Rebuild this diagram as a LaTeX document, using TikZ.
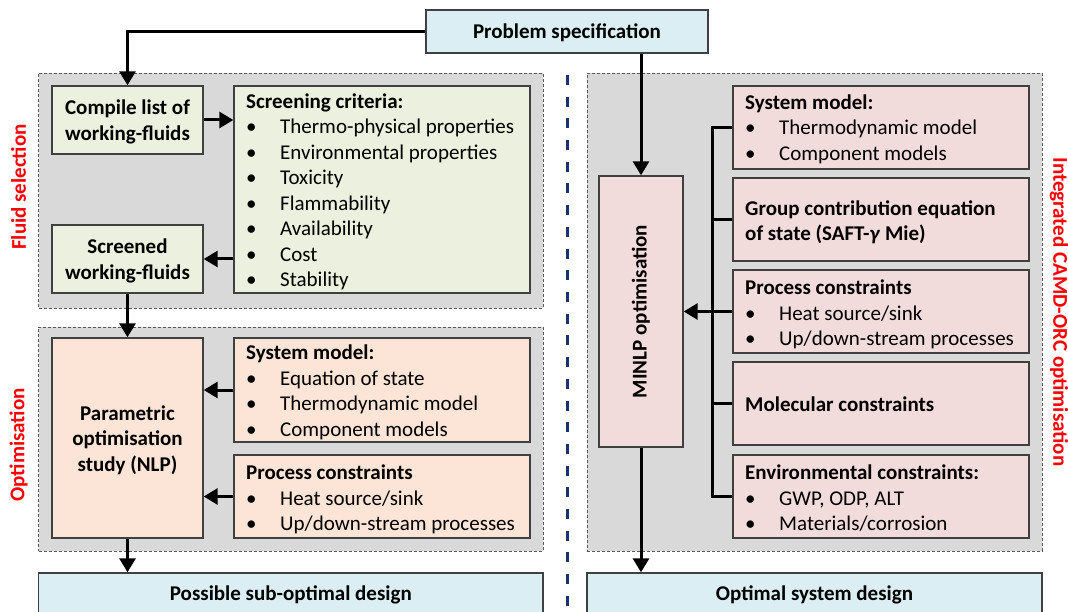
\documentclass[tikz,border=0pt]{standalone}
\usepackage{fontspec}
\setmainfont{Carlito}
\usetikzlibrary{arrows.meta,fit}
\definecolor{panelgray}{HTML}{D9D9D9}
\definecolor{boxgreen}{HTML}{EBF1DE}
\definecolor{boxpeach}{HTML}{FCE4D6}
\definecolor{boxpink}{HTML}{F2DCDB}
\definecolor{boxblue}{HTML}{DAEEF3}
\definecolor{boxedge}{HTML}{404040}
\definecolor{navy}{HTML}{1A3270}
\newcommand\bl{\makebox[34pt][l]{•}}
\tikzset{
  every node/.style={font=\fontsize{21}{25.5}\selectfont},
  box/.style={draw=boxedge, line width=1.4pt, inner sep=0pt},
  boxtext/.style={align=center, inner sep=0pt, font=\fontsize{21}{25.5}\selectfont\bfseries},
  panel/.style={draw=black!65, dash pattern=on 3pt off 2pt, line width=0.9pt, fill=panelgray, inner sep=0pt},
  listtext/.style={anchor=base west, inner sep=0pt},
  redlabel/.style={text=red, font=\fontsize{21}{25.5}\selectfont\bfseries, inner sep=0pt},
  conn/.style={line width=3pt, -{Triangle[length=14pt,width=16pt]}},
  wire/.style={line width=3pt},
}
\begin{document}
\begin{tikzpicture}[x=1pt,y=-1pt]
\useasboundingbox (0,0) rectangle (1068,612);
\clip (0,0) rectangle (1068,612);
% panels
\node[panel, fit={(38.6,73) (543,308)}] (panelA) {};
\node[panel, fit={(38.6,327) (543,551)}] (panelB) {};
\node[panel, fit={(587,73) (1042,551)}] (panelC) {};
% top
\node[box, fill=boxblue, fit={(426,10) (708,53)}] (prob) {};
\node[boxtext] (probT) at ([yshift=-1pt]prob.center) {Problem specification};
% fluid selection
\node[box, fill=boxgreen, fit={(52,86) (203,154)}] (compile) {};
\node[boxtext] (compileT) at ([yshift=-2pt]compile.center) {Compile list of\\working-fluids};
\node[box, fill=boxgreen, fit={(234,86) (530,293)}] (screen) {};
\node[box, fill=boxgreen, fit={(52,225) (203,293)}] (screened) {};
\node[boxtext] (screenedT) at ([yshift=-2pt]screened.center) {Screened\\working-fluids};
\node[listtext] (screenT) at (246,108.5) {\begin{tabular}[t]{@{}l@{}}\textbf{Screening criteria:}\\
\bl Thermo-physical properties\\ \bl Environmental properties\\ \bl Toxicity\\ \bl Flammability\\ \bl Availability\\ \bl Cost\\ \bl Stability\end{tabular}};
% optimisation
\node[box, fill=boxpeach, fit={(52,338) (203,538)}] (param) {};
\node[boxtext] (paramT) at ([yshift=-2pt]param.center) {Parametric\\optimisation\\study (NLP)};
\node[box, fill=boxpeach, fit={(234,338) (530,442)}] (sysL) {};
\node[box, fill=boxpeach, fit={(234,455) (530,538)}] (procL) {};
\node[listtext] (sysLT) at (246,359.5) {\begin{tabular}[t]{@{}l@{}}\textbf{System model:}\\
\bl Equation of state\\ \bl Thermodynamic model\\ \bl Component models\end{tabular}};
\node[listtext] (procLT) at (246,479.5) {\begin{tabular}[t]{@{}l@{}}\textbf{Process constraints}\\
\bl Heat source/sink\\ \bl Up/down-stream processes\end{tabular}};
\node[box, fill=boxblue, fit={(38.6,573) (543,617)}] (subopt) {};
\node[boxtext] (suboptT) at (subopt.center) {Possible sub-optimal design};
% right
\node[box, fill=boxpink, fit={(599,176) (683,447)}] (minlp) {};
\node[boxtext, rotate=90] (minlpT) at (minlp.center) {MINLP optimisation};
\node[box, fill=boxpink, fit={(733,86) (1029,169)}] (sysR) {};
\node[box, fill=boxpink, fit={(733,178) (1029,261)}] (gcR) {};
\node[box, fill=boxpink, fit={(733,270) (1029,353)}] (procR) {};
\node[box, fill=boxpink, fit={(733,362) (1029,445)}] (molR) {};
\node[box, fill=boxpink, fit={(733,455) (1029,538)}] (envR) {};
\node[listtext] (sysRT) at (745,109.5) {\begin{tabular}[t]{@{}l@{}}\textbf{System model:}\\
\bl Thermodynamic model\\ \bl Component models\end{tabular}};
\node[listtext] (gcRT) at (745,215.5) {\begin{tabular}[t]{@{}l@{}}\textbf{Group contribution equation}\\
\textbf{of state (SAFT-\textit{γ} Mie)}\end{tabular}};
\node[listtext] (procRT) at (745,294.5) {\begin{tabular}[t]{@{}l@{}}\textbf{Process constraints}\\
\bl Heat source/sink\\ \bl Up/down-stream processes\end{tabular}};
\node[listtext] (molRT) at (745,411) {\textbf{Molecular constraints}};
\node[listtext] (envRT) at (745,479.5) {\begin{tabular}[t]{@{}l@{}}\textbf{Environmental constraints:}\\
\bl GWP, ODP, ALT\\ \bl Materials/corrosion\end{tabular}};
\node[box, fill=boxblue, fit={(587,573) (1042,617)}] (opt) {};
\node[boxtext] (optT) at (opt.center) {Optimal system design};
% side labels
\node[redlabel, rotate=90] (lblA) at (18.6,187) {Fluid selection};
\node[redlabel, rotate=90] (lblB) at (18.6,445) {Optimisation};
\node[redlabel, rotate=-90] (lblC) at (1059,312) {Integrated CAMD-ORC optimisation};
% divider
\coordinate (divTop) at (567,75);
\coordinate (divBot) at (567,615);
\draw[navy, line width=3pt, dash pattern=on 10pt off 11.7pt] (divTop) -- (divBot);
% connectors left
\draw[conn] (prob.west) -| (compile.north);
\draw[conn] (compile.east) -- (screen.west |- compile.east);
\draw[conn] (screen.west |- screened.east) -- (screened.east);
\draw[conn] (screened.south) -- (param.north);
\draw[conn] (sysL.west) -- (param.east |- sysL.west);
\draw[conn] (procL.west) -- (param.east |- procL.west);
\draw[conn] (param.south) -- (param.south |- subopt.north);
% connectors right
\coordinate (bus) at (712,0);
\draw[conn] (minlp.north |- prob.south) -- (minlp.north);
\draw[conn] (minlp.south) -- (minlp.south |- opt.north);
\draw[wire] (sysR.west) -- (sysR.west -| bus) -- (envR.west -| bus) -- (envR.west);
\draw[wire] (gcR.west) -- (gcR.west -| bus);
\draw[wire] (molR.west) -- (molR.west -| bus);
\draw[conn] (procR.west) -- (minlp.east |- procR.west);
\end{tikzpicture}
\end{document}
